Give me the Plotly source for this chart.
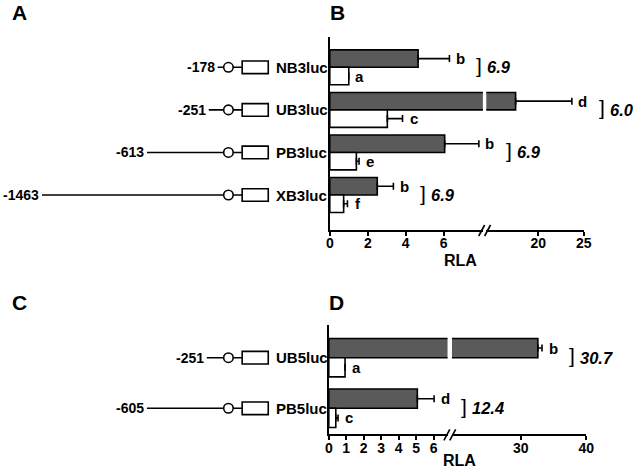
import plotly.graph_objects as go

W, H = 641, 472

# ---------------- data: panels A/B ----------------
constructs_top = ['NB3luc', 'UB3luc', 'PB3luc', 'XB3luc']
promoter_top = ['-178', '-251', '-613', '-1463']
schematic_len_top = [11, 20, 83, 190]          # drawn promoter line length (schematic units)
gray_top = [4.65, 17.5, 6.05, 2.5]
gray_err_top = [1.65, 6.2, 1.8, 0.85]
white_top = [1.0, 3.03, 1.4, 0.73]
white_err_top = [0.0, 0.8, 0.14, 0.2]
gray_letters_top = ['b', 'd', 'b', 'b']
white_letters_top = ['a', 'c', 'e', 'f']
ratios_top = ['6.9', '6.0', '6.9', '6.9']
ticks_top_low = [0, 2, 4, 6]
ticks_top_high = [20, 25]

# ---------------- data: panels C/D ----------------
constructs_bot = ['UB5luc', 'PB5luc']
promoter_bot = ['-251', '-605']
schematic_len_bot = [22, 83]
gray_bot = [32.6, 5.07]
gray_err_bot = [0.64, 0.96]
white_bot = [0.93, 0.4]
white_err_bot = [0.0, 0.13]
gray_letters_bot = ['b', 'd']
white_letters_bot = ['a', 'c']
ratios_bot = ['30.7', '12.4']
ticks_bot_low = [0, 1, 2, 3, 4, 5, 6]
ticks_bot_high = [30, 40]

FONT = 'Arial, Liberation Sans, sans-serif'
GRAY = '#5a5a5a'


def px(x):
    return x / W


def py(y):
    return 1 - y / H


fig = go.Figure()
shapes = []
annotations = []

panels = [
    dict(constructs=constructs_top, promoters=promoter_top, slen=schematic_len_top,
         gray=gray_top, gerr=gray_err_top, white=white_top, werr=white_err_top,
         gl=gray_letters_top, wl=white_letters_top, ratios=ratios_top,
         tlow=ticks_top_low, thigh=ticks_top_high,
         xs='x', xl='x2', xh='x3', y='y',
         ydom=[py(229.5), py(37)], yrange=[3.81, -0.712], pitch=42.57, bw=0.41,
         lowdom=[px(332), px(488)], lowrange=[0, 8.06],
         highdom=[px(491.5), px(591)], highrange=[14.27, 25.03],
         brk=(489.8, 230.5), rla=(465, 260.5)),
    dict(constructs=constructs_bot, promoters=promoter_bot, slen=schematic_len_bot,
         gray=gray_bot, gerr=gray_err_bot, white=white_bot, werr=white_err_bot,
         gl=gray_letters_bot, wl=white_letters_bot, ratios=ratios_bot,
         tlow=ticks_bot_low, thigh=ticks_bot_high,
         xs='x4', xl='x5', xh='x6', y='y2',
         ydom=[py(434.3), py(325)], yrange=[1.514, -0.646], pitch=50.6, bw=0.38,
         lowdom=[px(331), px(452)], lowrange=[0, 6.8],
         highdom=[px(456.5), px(593.5)], highrange=[19.46, 40.03],
         brk=(454.3, 434.8), rla=(464, 460)),
]

layout_axes = {}


def axname(ref):
    return 'xaxis' + ref[1:] if ref.startswith('x') else 'yaxis' + ref[1:]


for P in panels:
    n = len(P['constructs'])
    pos = list(range(n))
    low_max = P['lowrange'][1]

    # ---- schematic (panels A / C) ----
    for i in pos:
        fig.add_trace(go.Scatter(x=[-P['slen'][i], 14], y=[i, i], mode='lines',
                                 line=dict(color='black', width=1.6),
                                 xaxis=P['xs'], yaxis=P['y'], hoverinfo='skip'))
    fig.add_trace(go.Scatter(x=[0] * n, y=pos, mode='markers',
                             marker=dict(symbol='circle', size=9.5, color='white',
                                         line=dict(color='black', width=1.6)),
                             xaxis=P['xs'], yaxis=P['y'], hoverinfo='skip'))
    hh = 6.3 / P['pitch']
    for i in pos:
        shapes.append(dict(type='rect', xref=P['xs'], yref=P['y'], x0=14, x1=40.6,
                           y0=i - hh, y1=i + hh, line=dict(color='black', width=1.6),
                           fillcolor='white'))
        annotations.append(dict(x=46.5, y=i, xref=P['xs'], yref=P['y'], text='<b>%s</b>' % P['constructs'][i],
                                xanchor='left', yanchor='middle', showarrow=False,
                                font=dict(family=FONT, size=15, color='black')))
        annotations.append(dict(x=-P['slen'][i], y=i, xref=P['xs'], yref=P['y'],
                                text='<b>%s</b>' % P['promoters'][i], xanchor='right', yanchor='middle',
                                xshift=-1, showarrow=False,
                                font=dict(family=FONT, size=14, color='black')))

    # ---- bars (panels B / D), broken axis ----
    def bar(xvals, errs, color, offset, xref):
        fig.add_trace(go.Bar(x=xvals, y=pos, orientation='h', width=P['bw'], offset=offset,
                             marker=dict(color=color, line=dict(color='black', width=1.6)),
                             error_x=dict(type='data', array=errs, arrayminus=[0] * n,
                                          symmetric=False, color='black', thickness=1.6, width=3.5),
                             xaxis=xref, yaxis=P['y'], hoverinfo='skip'))

    bar(P['gray'], P['gerr'], GRAY, -P['bw'], P['xl'])
    bar(P['white'], P['werr'], 'white', 0, P['xl'])
    bar([v if v > low_max else None for v in P['gray']], P['gerr'], GRAY, -P['bw'], P['xh'])
    bar([v if v > low_max else None for v in P['white']], P['werr'], 'white', 0, P['xh'])

    for i in pos:
        gend = P['gray'][i] + P['gerr'][i]
        gref = P['xh'] if P['gray'][i] > low_max else P['xl']
        wend = P['white'][i] + P['werr'][i]
        wref = P['xh'] if P['white'][i] > low_max else P['xl']
        annotations.append(dict(x=gend, y=i - P['bw'] / 2, xref=gref, yref=P['y'], text='<b>%s</b>' % P['gl'][i],
                                xshift=11, showarrow=False, xanchor='center', yanchor='middle',
                                font=dict(family=FONT, size=15, color='black')))
        annotations.append(dict(x=wend, y=i + P['bw'] / 2, xref=wref, yref=P['y'], text='<b>%s</b>' % P['wl'][i],
                                xshift=11, showarrow=False, xanchor='center', yanchor='middle',
                                font=dict(family=FONT, size=15, color='black')))
        annotations.append(dict(x=gend, y=i, xref=gref, yref=P['y'], text=']',
                                xshift=30, yshift=2, showarrow=False, xanchor='center', yanchor='middle',
                                font=dict(family=FONT, size=21, color='black')))
        annotations.append(dict(x=gend, y=i, xref=gref, yref=P['y'], text='<b><i>%s</i></b>' % P['ratios'][i],
                                xshift=36, showarrow=False, xanchor='left', yanchor='middle',
                                font=dict(family=FONT, size=16.5, color='black')))

    # axes
    tickfont = dict(family=FONT, size=14, color='black')

    def xax(dom, rng, tv):
        return dict(domain=dom, range=rng, anchor=P['y'],
                    showline=True, linecolor='black', linewidth=2,
                    ticks='outside', ticklen=4, tickwidth=1.6, tickcolor='black',
                    ticklabelstandoff=-4,
                    tickmode='array', tickvals=tv, ticktext=['<b>%s</b>' % t for t in tv],
                    showgrid=False, zeroline=False, tickfont=tickfont)

    layout_axes[axname(P['xs'])] = dict(domain=[0, px(332)], range=[-228.7, 103.3], visible=False,
                                        anchor=P['y'], fixedrange=True)
    layout_axes[axname(P['xl'])] = xax(P['lowdom'], P['lowrange'], P['tlow'])
    layout_axes[axname(P['xh'])] = xax(P['highdom'], P['highrange'], P['thigh'])
    layout_axes[axname(P['y'])] = dict(domain=P['ydom'], range=P['yrange'], anchor=P['xl'],
                                       showline=True, linecolor='black', linewidth=2,
                                       showticklabels=False, ticks='', showgrid=False, zeroline=False)

    # break marks //
    bx, by = P['brk']
    for dx in (-3, 3):
        shapes.append(dict(type='line', xref='paper', yref='paper',
                           x0=px(bx + dx - 3), y0=py(by + 5.5), x1=px(bx + dx + 3), y1=py(by - 5.5),
                           line=dict(color='black', width=1.6)))
    annotations.append(dict(x=px(P['rla'][0]), y=py(P['rla'][1]), xref='paper', yref='paper',
                            text='<b>RLA</b>', showarrow=False, xanchor='center', yanchor='middle',
                            font=dict(family=FONT, size=16, color='black')))

for letter, (lx, ly) in zip(['A', 'B', 'C', 'D'], [(16, 12), (340, 12), (16, 302), (339, 302)]):
    annotations.append(dict(x=px(lx), y=py(ly), xref='paper', yref='paper', text='<b>%s</b>' % letter,
                            showarrow=False, xanchor='center', yanchor='middle',
                            font=dict(family=FONT, size=21, color='black')))

fig.update_layout(width=W, height=H, margin=dict(l=0, r=0, t=0, b=0),
                  paper_bgcolor='white', plot_bgcolor='white', showlegend=False,
                  shapes=shapes, annotations=annotations, **layout_axes)

fig.write_html('out.html', config={'displayModeBar': False},
               post_script="document.body.style.margin='0';document.body.style.overflow='hidden';")
